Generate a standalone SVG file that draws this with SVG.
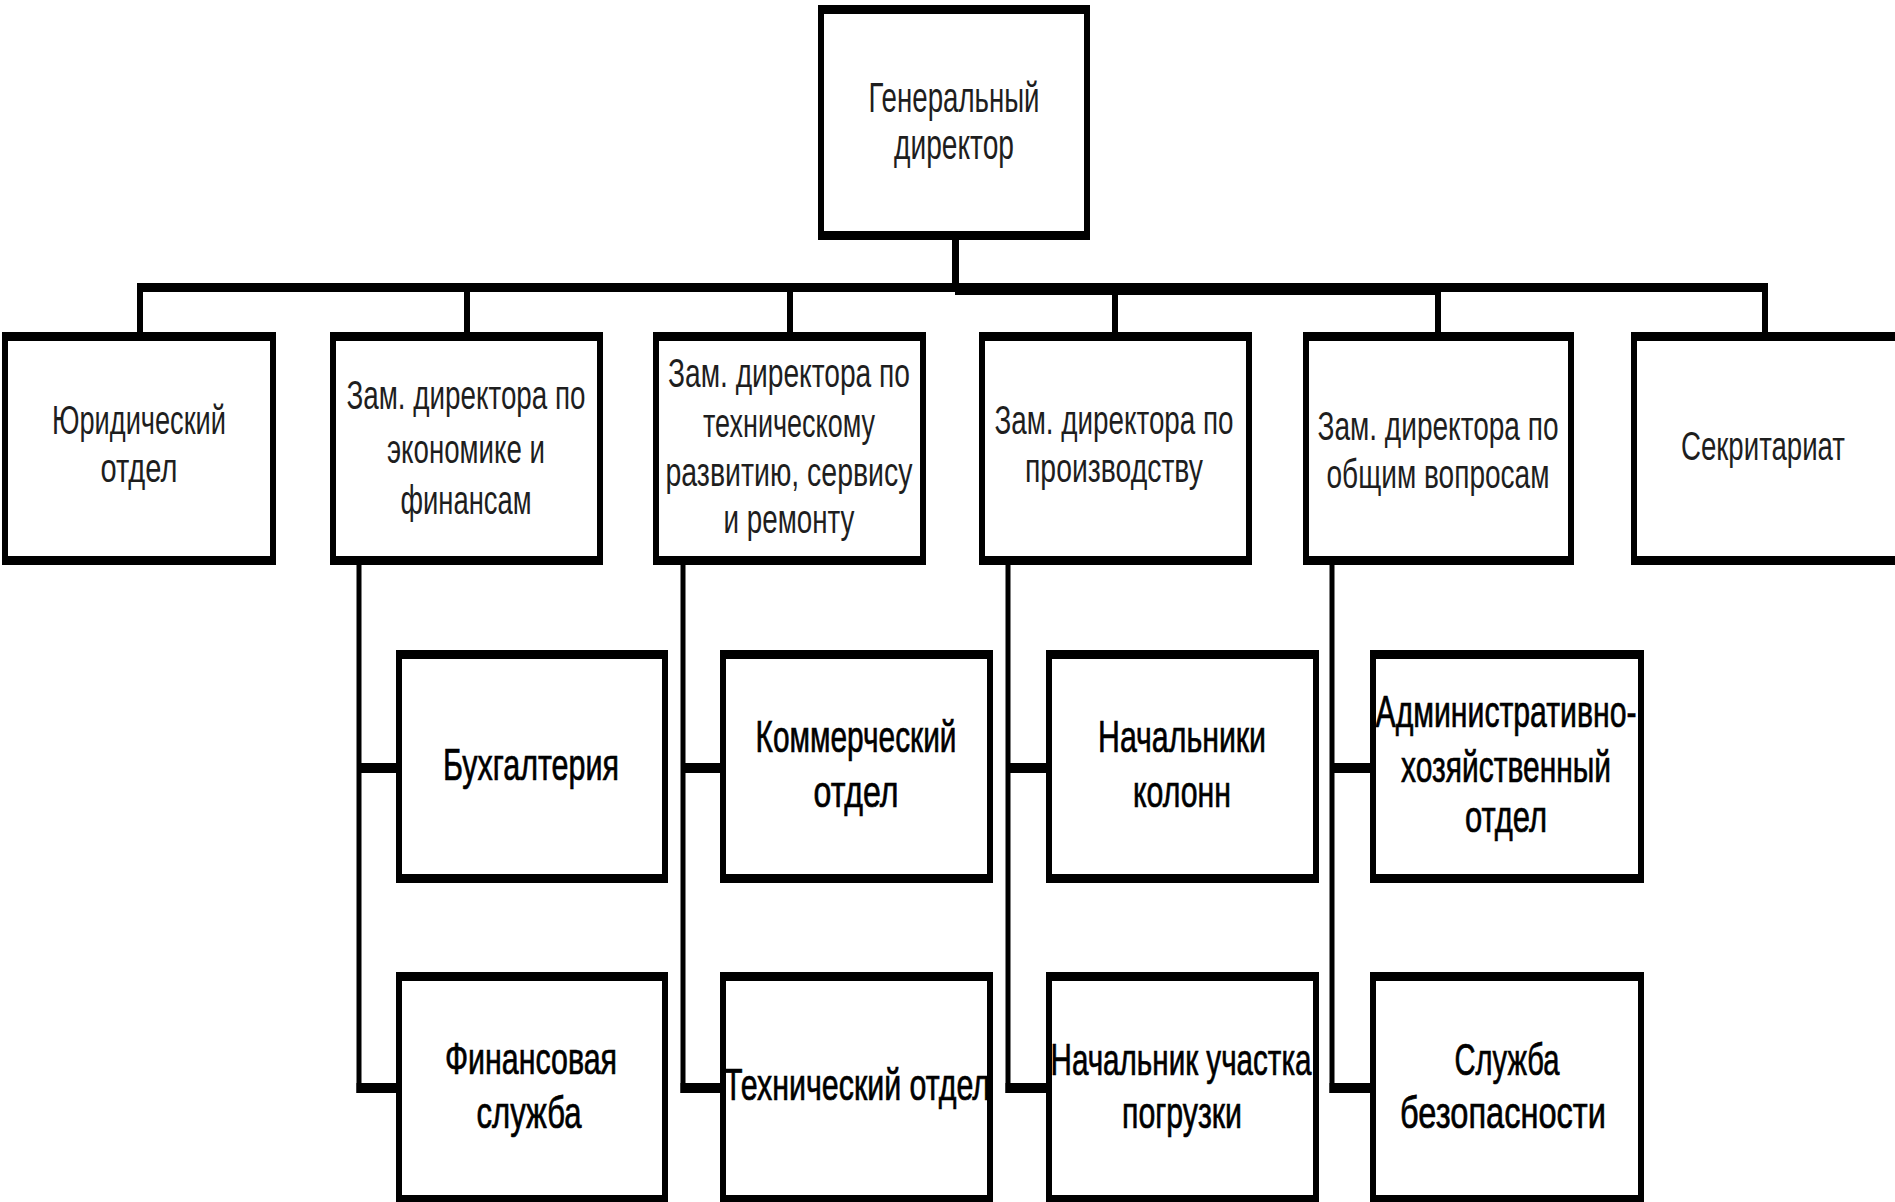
<svg xmlns="http://www.w3.org/2000/svg" width="1895" height="1202" viewBox="0 0 1895 1202">
<style>
.o{fill:#000}
.i{fill:#fff}
.t{font-family:"Liberation Sans",Arial,sans-serif;font-size:40px;fill:#1e1e1e;text-anchor:middle}
.g{font-size:43px}
.s{font-family:"Liberation Sans",Arial,sans-serif;font-size:44px;fill:#000;stroke:#000;stroke-width:0.7;text-anchor:middle}
.c{stroke:#000;fill:none}
</style>
<rect width="1895" height="1202" fill="#fff"/>
<g id="connectors">
<line class="c" x1="955.5" y1="238" x2="955.5" y2="292" stroke-width="7"/>
<line class="c" x1="137" y1="287.5" x2="1768" y2="287.5" stroke-width="9"/>
<line class="c" x1="955" y1="289" x2="1440" y2="289" stroke-width="12"/>
<line class="c" x1="140" y1="287" x2="140" y2="336" stroke-width="6"/>
<line class="c" x1="467" y1="287" x2="467" y2="336" stroke-width="6"/>
<line class="c" x1="790" y1="287" x2="790" y2="336" stroke-width="6"/>
<line class="c" x1="1115" y1="287" x2="1115" y2="336" stroke-width="6"/>
<line class="c" x1="1438" y1="287" x2="1438" y2="336" stroke-width="6"/>
<line class="c" x1="1765" y1="287" x2="1765" y2="336" stroke-width="6"/>
<line class="c" x1="359" y1="563" x2="359" y2="1093" stroke-width="5"/>
<line class="c" x1="683" y1="563" x2="683" y2="1093" stroke-width="5"/>
<line class="c" x1="1008" y1="563" x2="1008" y2="1093" stroke-width="5"/>
<line class="c" x1="1332" y1="563" x2="1332" y2="1093" stroke-width="5"/>
<line class="c" x1="357" y1="768" x2="398" y2="768" stroke-width="10"/>
<line class="c" x1="681" y1="768" x2="722" y2="768" stroke-width="10"/>
<line class="c" x1="1006" y1="768" x2="1048" y2="768" stroke-width="10"/>
<line class="c" x1="1330" y1="768" x2="1372" y2="768" stroke-width="10"/>
<line class="c" x1="356.5" y1="1088" x2="398" y2="1088" stroke-width="10"/>
<line class="c" x1="680.5" y1="1088" x2="722" y2="1088" stroke-width="10"/>
<line class="c" x1="1005.5" y1="1088" x2="1048" y2="1088" stroke-width="10"/>
<line class="c" x1="1329.5" y1="1088" x2="1372" y2="1088" stroke-width="10"/>
</g>
<g id="gen-director">
<rect class="o" x="818" y="5" width="272" height="235"/><rect class="i" x="824" y="14" width="260" height="217"/>
<text class="t g" x="954" y="112" textLength="171" lengthAdjust="spacingAndGlyphs">Генеральный</text>
<text class="t g" x="954" y="159" textLength="120" lengthAdjust="spacingAndGlyphs">директор</text>
</g>
<g id="legal">
<rect class="o" x="2" y="332" width="274" height="233"/><rect class="i" x="8" y="341" width="262" height="215"/>
<text class="t" x="139" y="434" textLength="174" lengthAdjust="spacingAndGlyphs">Юридический</text>
<text class="t" x="139" y="482" textLength="77" lengthAdjust="spacingAndGlyphs">отдел</text>
</g>
<g id="deputy-econ">
<rect class="o" x="330" y="332" width="273" height="233"/><rect class="i" x="336" y="341" width="261" height="215"/>
<text class="t" x="466" y="409" textLength="239" lengthAdjust="spacingAndGlyphs">Зам. директора по</text>
<text class="t" x="466" y="463" textLength="158" lengthAdjust="spacingAndGlyphs">экономике и</text>
<text class="t" x="466" y="514" textLength="131" lengthAdjust="spacingAndGlyphs">финансам</text>
</g>
<g id="deputy-tech">
<rect class="o" x="653" y="332" width="273" height="233"/><rect class="i" x="659" y="341" width="261" height="215"/>
<text class="t" x="789" y="387" textLength="242" lengthAdjust="spacingAndGlyphs">Зам. директора по</text>
<text class="t" x="789" y="437" textLength="172" lengthAdjust="spacingAndGlyphs">техническому</text>
<text class="t" x="789" y="486" textLength="247" lengthAdjust="spacingAndGlyphs">развитию, сервису</text>
<text class="t" x="789" y="533" textLength="131" lengthAdjust="spacingAndGlyphs">и ремонту</text>
</g>
<g id="deputy-prod">
<rect class="o" x="979" y="332" width="273" height="233"/><rect class="i" x="985" y="341" width="261" height="215"/>
<text class="t" x="1114" y="434" textLength="239" lengthAdjust="spacingAndGlyphs">Зам. директора по</text>
<text class="t" x="1114" y="482" textLength="178" lengthAdjust="spacingAndGlyphs">производству</text>
</g>
<g id="deputy-general">
<rect class="o" x="1303" y="332" width="271" height="233"/><rect class="i" x="1309" y="341" width="259" height="215"/>
<text class="t" x="1438" y="440" textLength="241" lengthAdjust="spacingAndGlyphs">Зам. директора по</text>
<text class="t" x="1438" y="488" textLength="223" lengthAdjust="spacingAndGlyphs">общим вопросам</text>
</g>
<g id="secretariat">
<rect class="o" x="1631" y="332" width="273" height="233"/><rect class="i" x="1637" y="341" width="261" height="215"/>
<text class="t" x="1763" y="460" textLength="164" lengthAdjust="spacingAndGlyphs">Секритариат</text>
</g>
<g id="accounting">
<rect class="o" x="396" y="650" width="272" height="233"/><rect class="i" x="402" y="659" width="260" height="215"/>
<text class="s" x="531" y="780" textLength="176" lengthAdjust="spacingAndGlyphs">Бухгалтерия</text>
</g>
<g id="commercial">
<rect class="o" x="720" y="650" width="273" height="233"/><rect class="i" x="726" y="659" width="261" height="215"/>
<text class="s" x="856" y="752" textLength="201" lengthAdjust="spacingAndGlyphs">Коммерческий</text>
<text class="s" x="856" y="807" textLength="85" lengthAdjust="spacingAndGlyphs">отдел</text>
</g>
<g id="column-heads">
<rect class="o" x="1046" y="650" width="273" height="233"/><rect class="i" x="1052" y="659" width="261" height="215"/>
<text class="s" x="1182" y="752" textLength="168" lengthAdjust="spacingAndGlyphs">Начальники</text>
<text class="s" x="1182" y="807" textLength="98" lengthAdjust="spacingAndGlyphs">колонн</text>
</g>
<g id="admin">
<rect class="o" x="1370" y="650" width="274" height="233"/><rect class="i" x="1376" y="659" width="262" height="215"/>
<text class="s" x="1506" y="727" textLength="261" lengthAdjust="spacingAndGlyphs">Административно-</text>
<text class="s" x="1506" y="782" textLength="210" lengthAdjust="spacingAndGlyphs">хозяйственный</text>
<text class="s" x="1506" y="832" textLength="82" lengthAdjust="spacingAndGlyphs">отдел</text>
</g>
<g id="finance">
<rect class="o" x="396" y="972" width="272" height="232"/><rect class="i" x="402" y="981" width="260" height="214"/>
<text class="s" x="531" y="1074" textLength="172" lengthAdjust="spacingAndGlyphs">Финансовая</text>
<text class="s" x="529" y="1128" textLength="105" lengthAdjust="spacingAndGlyphs">служба</text>
</g>
<g id="technical">
<rect class="o" x="720" y="972" width="273" height="232"/><rect class="i" x="726" y="981" width="261" height="214"/>
<text class="s" x="857" y="1100" textLength="266" lengthAdjust="spacingAndGlyphs">Технический отдел</text>
</g>
<g id="loading-head">
<rect class="o" x="1046" y="972" width="273" height="232"/><rect class="i" x="1052" y="981" width="261" height="214"/>
<text class="s" x="1181" y="1075" textLength="261" lengthAdjust="spacingAndGlyphs">Начальник участка</text>
<text class="s" x="1182" y="1128" textLength="120" lengthAdjust="spacingAndGlyphs">погрузки</text>
</g>
<g id="security">
<rect class="o" x="1370" y="972" width="274" height="232"/><rect class="i" x="1376" y="981" width="262" height="214"/>
<text class="s" x="1507" y="1075" textLength="105" lengthAdjust="spacingAndGlyphs">Служба</text>
<text class="s" x="1503" y="1128" textLength="206" lengthAdjust="spacingAndGlyphs">безопасности</text>
</g>
</svg>
